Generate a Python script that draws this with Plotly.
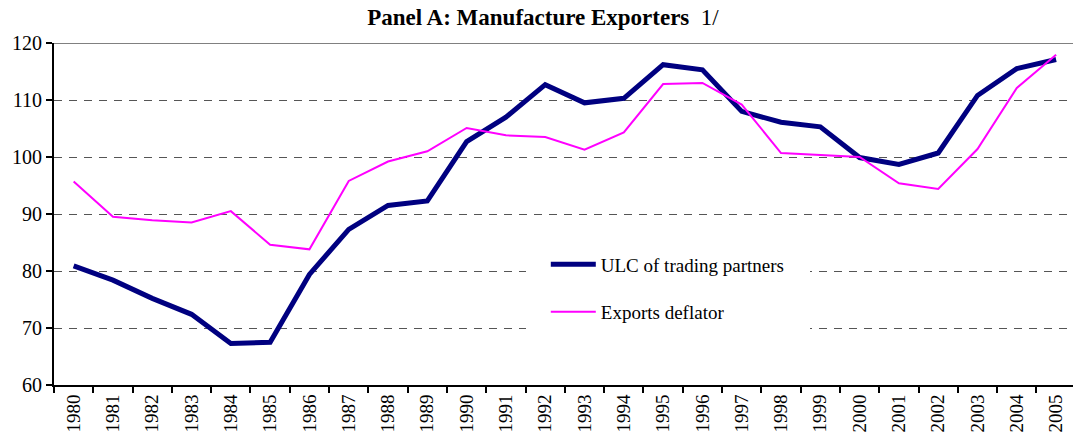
import plotly.graph_objects as go

years = [str(y) for y in range(1980, 2006)]
ulc = [80.9, 78.4, 75.2, 72.4, 67.3, 67.5, 79.4, 87.3, 91.5, 92.3,
       102.7, 107.0, 112.7, 109.5, 110.3, 116.2, 115.3, 108.0, 106.1, 105.3,
       99.9, 98.7, 100.7, 110.8, 115.5, 117.1]
deflator = [95.7, 89.5, 88.9, 88.5, 90.5, 84.6, 83.8, 95.8, 99.2, 101.0,
            105.1, 103.8, 103.5, 101.3, 104.3, 112.8, 113.0, 109.2, 100.7, 100.4,
            100.0, 95.4, 94.4, 101.4, 112.1, 117.95]
y_ticks = [60, 70, 80, 90, 100, 110, 120]

FONT = "Liberation Serif, Times New Roman, serif"

fig = go.Figure()
fig.add_trace(go.Scatter(x=years, y=ulc, mode="lines", name="ULC of trading partners",
                         line=dict(color="#000080", width=5), legendgroup="a"))
fig.add_trace(go.Scatter(x=years, y=deflator, mode="lines", name="Exports deflator",
                         line=dict(color="#FF00FF", width=2), legendgroup="b"))

fig.add_shape(type="line", xref="paper", yref="y", x0=0, x1=1, y0=120, y1=120,
              line=dict(color="#808080", width=2))

fig.update_layout(
    width=1073, height=443,
    margin=dict(l=54, r=0, t=43, b=58),
    paper_bgcolor="white", plot_bgcolor="white",
    font=dict(family=FONT, size=19, color="black"),
    title=dict(text="<b>Panel A: Manufacture Exporters</b>  1/", x=0.506, xanchor="center",
               xref="container", y=1 - 17 / 443, yanchor="middle", yref="container",
               font=dict(size=23, family=FONT)),
    showlegend=True,
    legend=dict(x=0.463, y=0.467, xanchor="left", yanchor="top", bgcolor="white",
                bordercolor="white", borderwidth=20,
                font=dict(size=19, family=FONT), tracegroupgap=20, itemwidth=45),
    xaxis=dict(type="category", categoryorder="array", categoryarray=years,
               range=[-0.5, 25.43], showline=True, linecolor="black", linewidth=2,
               ticks="outside", ticklen=6, tickwidth=1.5, tickcolor="black",
               tickson="boundaries", tickangle=-90, showgrid=False,
               tickfont=dict(size=19, family=FONT)),
    yaxis=dict(range=[60, 120], tickvals=y_ticks, showline=True, linecolor="black",
               linewidth=2, ticks="outside", ticklen=6, tickwidth=1.5, tickcolor="black",
               showgrid=True, gridcolor="#555555", gridwidth=1, griddash="8px,7px",
               zeroline=False, tickfont=dict(size=20, family=FONT)),
)

fig.write_html("out.html", config={"displayModeBar": False},
               post_script="document.body.style.margin='0px';")
